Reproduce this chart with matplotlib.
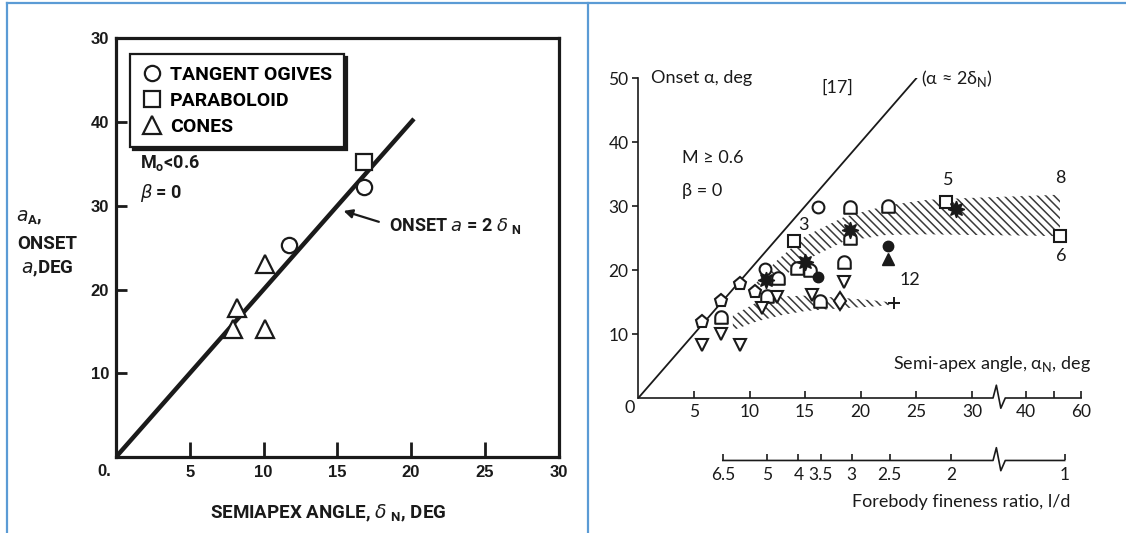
import numpy as np
import matplotlib
matplotlib.use("Agg")
import matplotlib.pyplot as plt
from matplotlib.path import Path
from matplotlib.lines import Line2D

W, H = 1126, 533
INK = "#1a1a1a"
FRAME_BLUE = "#5b9bd5"
NARROW = ["Roboto", "Liberation Sans", "DejaVu Sans"]
BOLD = ["Liberation Sans", "DejaVu Sans"]
SOFT = ["Lato", "DejaVu Sans"]

plt.rcParams["hatch.color"] = "#3a3a3a"
plt.rcParams["hatch.linewidth"] = 1.1

# ---- left chart: onset angle vs semiapex angle, M < 0.6
ogive_delta = [11.7, 16.8]
ogive_alpha = [25.3, 32.3]
parab_delta = [16.8]
parab_alpha = [35.2]
cone_delta = [7.9, 8.2, 10.1, 10.1]
cone_alpha = [15.3, 17.8, 23.0, 15.3]
onset_delta = [0.0, 20.2]          # alpha = 2 delta
left_yticks = [10, 20, 30, 40, 50]
left_ylabels = ["10", "20", "30", "40", "30"]
left_xticks = [5, 10, 15, 20, 25, 30]

# ---- right chart: onset angle vs semi-apex angle, M >= 0.6
circ_x, circ_y = [16.2, 11.4], [29.9, 20.1]
pent_x, pent_y = [5.7, 7.4, 9.15, 10.5], [11.9, 15.1, 17.9, 16.6]
house_x = [19.0, 19.05, 14.25, 15.45, 18.5, 16.3, 12.6, 11.55, 7.4, 22.45]
house_y = [29.9, 25.0, 20.3, 20.0, 21.2, 15.2, 18.7, 15.95, 12.7, 30.1]
sq_x, sq_y = [14.0, 27.7, 52.3], [24.6, 30.7, 25.3]
tri_x = [18.5, 15.6, 12.5, 11.1, 7.4, 5.7, 9.15]
tri_y = [18.2, 16.1, 15.85, 14.0, 10.0, 8.3, 8.3]
dia_x, dia_y = [18.15], [15.2]
star_x, star_y = [19.0, 15.0, 11.5, 28.6], [26.3, 21.3, 18.45, 29.5]
dot_x, dot_y = [16.2, 22.45], [19.0, 23.85]
ftri_x, ftri_y = [22.45], [21.8]
plus_x, plus_y = [23.0], [14.8]

band1_x = [10.6, 12.4, 15.0, 18.5, 22.3, 26.0, 30.0, 40.0, 52.3]
band1_hi = [18.0, 21.4, 25.3, 28.3, 30.1, 31.0, 31.3, 31.6, 31.8]
band1_lo = [17.6, 18.2, 21.5, 24.5, 25.5, 25.6, 25.5, 25.4, 25.3]
band2_x = [8.5, 10.7, 13.0, 15.0, 18.0, 21.0, 23.0]
band2_hi = [12.9, 15.0, 15.9, 16.0, 15.7, 15.3, 14.9]
band2_lo = [10.6, 12.0, 13.0, 13.6, 14.0, 14.3, 14.6]

right_xticks = [5, 10, 15, 20, 25, 30, 40, 50, 60]
right_xlabels = ["5", "10", "15", "20", "25", "30", "40", "", "60"]
right_yticks = [10, 20, 30, 40, 50]
fine_pos = [7.6, 11.6, 14.4, 16.4, 19.2, 22.6, 28.1, 54.0]
fine_labels = ["6.5", "5", "4", "3.5", "3", "2.5", "2", "1"]
curve_nums = [("3", 14.85, 27.1), ("5", 27.9, 34.1), ("8", 52.3, 34.4),
              ("6", 52.6, 22.2), ("12", 24.4, 18.4)]

# compressed scale past the axis break (30 ... 60 deg)
K = 0.247
A40 = 34.88
BRK = (A40 - 40 * K) / (1 - K)


def fwd(a):
    a = np.asarray(a, float)
    return np.where(a <= BRK, a, A40 + (a - 40.0) * K)


def inv(u):
    u = np.asarray(u, float)
    return np.where(u <= BRK, u, 40.0 + (u - A40) / K)


def fx(px):
    return px / W


def fy(py):
    return 1 - py / H


# rounded-top marker
t = np.linspace(0, np.pi, 15)
hv = [(-1, -1), (1, -1), (1, 0)] + list(zip(np.cos(t), np.sin(t))) + [(-1, -1)]
house = Path(hv, [Path.MOVETO] + [Path.LINETO] * (len(hv) - 2) + [Path.CLOSEPOLY])

fig = plt.figure(figsize=(W / 100, H / 100), dpi=100)

# table frame around the two charts
for xs, ys in [([7, W], [3.3, 3.3]), ([7.3, 7.3], [3, H]), ([587.7, 587.7], [3, H])]:
    fig.add_artist(Line2D([fx(v) for v in xs], [fy(v) for v in ys],
                          transform=fig.transFigure, color=FRAME_BLUE, lw=1.6))

# ================= left chart =================
ax = fig.add_axes([fx(116), fy(457), (558.5 - 116) / W, (457 - 38.5) / H])
ax.set_xlim(0, 30)
ax.set_ylim(0, 50)
ax.plot(onset_delta, [2 * d for d in onset_delta], color=INK, lw=3.2,
        solid_capstyle="butt")
mk = dict(ls="none", mfc="white", mec=INK, mew=1.6)
ax.plot(ogive_delta, ogive_alpha, marker="o", ms=11, label="TANGENT OGIVES", **mk)
ax.plot(parab_delta, parab_alpha, marker="s", ms=11.5, label="PARABOLOID", **mk)
ax.plot(cone_delta, cone_alpha, marker="^", ms=13, label="CONES", **mk)

for s in ax.spines.values():
    s.set_linewidth(2.3)
    s.set_color(INK)
ax.set_xticks(left_xticks)
ax.set_yticks(left_yticks, left_ylabels)
ax.tick_params(axis="x", direction="in", length=11, width=2, pad=6, colors=INK)
ax.tick_params(axis="y", direction="in", length=8, width=2, pad=5, colors=INK)
for lab in ax.get_xticklabels() + ax.get_yticklabels():
    lab.set_family(BOLD)
    lab.set_weight("bold")
    lab.set_fontsize(12)

leg = ax.legend(loc="upper left", bbox_to_anchor=(0.032, 0.962), borderaxespad=0,
                prop=dict(family=NARROW, weight="bold", size=14), handlelength=1.0,
                handletextpad=0.45, borderpad=0.6, labelspacing=0.4,
                fancybox=False, framealpha=1, edgecolor=INK,
                shadow={"color": INK, "alpha": 1})
leg.get_frame().set_linewidth(1.6)

txt = dict(family=NARROW, weight="bold", color=INK)
ax.text(1.6, 35.1, "M$_\\mathregular{o}$<0.6", fontsize=13, va="center", **txt)
ax.text(1.6, 31.6, "$\\mathit{\\beta}$ = 0", fontsize=13, va="center", **txt)
ax.text(18.5, 27.6, "ONSET $\\mathit{a}$ = 2 $\\mathit{\\delta}$ $_\\mathregular{N}$",
        fontsize=13, va="center", **txt)
ax.annotate("", xy=(15.25, 29.5), xytext=(18.0, 28.0),
            arrowprops=dict(arrowstyle="-|>", color=INK, lw=1.6, mutation_scale=13))
ax.text(-0.8, -1.7, "0.", fontsize=12, ha="center", va="center", clip_on=False,
        family=BOLD, weight="bold", color=INK)

fig.text(fx(15.5), fy(217.7), "$\\mathit{a}_\\mathregular{A}$,", fontsize=13.5,
         va="center", **txt)
fig.text(fx(17), fy(244.2), "ONSET", fontsize=13.5, va="center", **txt)
fig.text(fx(21), fy(268.7), "$\\mathit{a}$,DEG", fontsize=13.5, va="center", **txt)
fig.text(fx(328), fy(513.6), "SEMIAPEX ANGLE, $\\mathit{\\delta}$ $_\\mathregular{N}$, DEG",
         fontsize=13.5, ha="center", va="center", **txt)

# ================= right chart =================
bx = fig.add_axes([fx(638.3), fy(398), (1081.1 - 638.3) / W, (398 - 78.3) / H])
bx.set_xscale("function", functions=(fwd, inv))
bx.set_xlim(0, 60)
bx.set_ylim(0, 50)
for side in ["top", "right", "bottom"]:
    bx.spines[side].set_visible(False)
bx.spines["left"].set_linewidth(1.2)
bx.spines["left"].set_color(INK)

bx.fill_between(band1_x, band1_lo, band1_hi, facecolor="none", edgecolor="#3a3a3a",
                hatch="\\\\\\\\", linewidth=0)
bx.fill_between(band2_x, band2_lo, band2_hi, facecolor="none", edgecolor="#3a3a3a",
                hatch="\\\\\\\\", linewidth=0)
bx.plot([0, 25], [0, 50], color=INK, lw=1.3)

rk = dict(ls="none", mfc="white", mec=INK, mew=1.5, clip_on=False)
bx.plot(circ_x, circ_y, marker="o", ms=8.5, **rk)
bx.plot(pent_x, pent_y, marker="p", ms=9.5, **rk)
bx.plot(house_x, house_y, marker=house, ms=9, **rk)
bx.plot(sq_x, sq_y, marker="s", ms=8.5, **rk)
bx.plot(tri_x, tri_y, marker="v", ms=9, **rk)
bx.plot(dia_x, dia_y, marker="d", ms=9.5, **rk)
fk = dict(ls="none", mfc=INK, mec=INK, clip_on=False)
bx.plot(star_x, star_y, marker=(8, 1, 0), ms=12, **fk)
bx.plot(dot_x, dot_y, marker="o", ms=7.5, **fk)
bx.plot(ftri_x, ftri_y, marker="^", ms=8, **fk)
bx.plot(plus_x, plus_y, marker="+", ms=9, mew=1.4, ls="none", color=INK)

# broken abscissa and fineness-ratio scale
zig_x = [31.9, 32.2, 32.6, 33.0]
zig_dy = [0, 2.0, -1.6, 0]
bx.plot([0] + zig_x + [60], [0] + zig_dy + [0], color=INK, lw=1.2, clip_on=False)
fy0 = -9.77
bx.plot([fine_pos[0]] + zig_x + [fine_pos[-1]],
        [fy0] + [fy0 + d for d in zig_dy] + [fy0], color=INK, lw=1.2, clip_on=False)
bx.vlines(fine_pos, fy0, fy0 + 1.0, color=INK, lw=1.2, clip_on=False)
for p, lab in zip(fine_pos, fine_labels):
    bx.text(p, -12.1, lab, ha="center", va="center", fontsize=12.5, family=SOFT,
            color=INK, clip_on=False)

bx.set_xticks(right_xticks, right_xlabels)
bx.set_yticks(right_yticks)
bx.tick_params(axis="x", direction="in", length=5, width=1.2, pad=4, colors=INK,
               labelsize=12.5)
bx.tick_params(axis="y", direction="out", length=4, width=1.2, pad=3, colors=INK,
               labelsize=12.5)
for lab in bx.get_xticklabels() + bx.get_yticklabels():
    lab.set_family(SOFT)
bx.xaxis.set_minor_locator(matplotlib.ticker.NullLocator())

rt = dict(family=SOFT, color=INK, fontsize=13)
bx.text(1.1, 50.0, "Onset α, deg", ha="left", va="center", clip_on=False, **rt)
bx.text(17.9, 48.5, "[17]", ha="center", va="center", **rt)
bx.text(25.4, 49.9, "(α ≈ 2δ$_\\mathregular{N}$)", ha="left", va="center",
        clip_on=False, **rt)
bx.text(3.95, 37.5, "M ≥ 0.6", ha="left", va="center", **rt)
bx.text(3.95, 32.45, "β = 0", ha="left", va="center", **rt)
for s, xx, yy in curve_nums:
    bx.text(xx, yy, s, ha="center", va="center", clip_on=False, **rt)
fig.text(fx(629.5), fy(408), "0", ha="center", va="center", **rt)
fig.text(fx(1091.6), fy(364), "Semi-apex angle, α$_\\mathregular{N}$, deg",
         ha="right", va="center", **rt)
fig.text(fx(961.6), fy(502), "Forebody fineness ratio, l/d",
         ha="center", va="center", **rt)

fig.savefig("out.png", dpi=100)
